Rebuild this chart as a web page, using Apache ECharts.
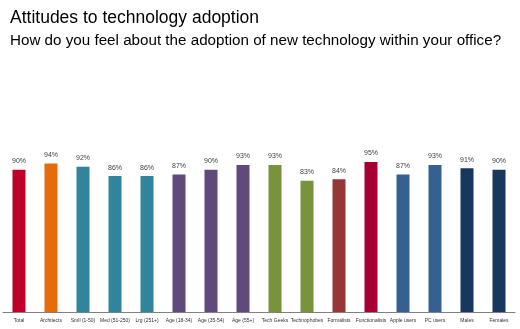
<!DOCTYPE html>
<html><head><meta charset="utf-8">
<script src="https://cdn.jsdelivr.net/npm/echarts@6/dist/echarts.min.js"></script>
<style>html,body{margin:0;padding:0;background:#fff}#c{width:520px;height:329px}</style>
</head><body><div id="c"></div>
<script>
const categories = ["Total","Architects","Smll (1-50)","Med (51-250)","Lrg (251+)","Age (18-34)","Age (35-54)","Age (55+)","Tech Geeks","Technophobes","Formalists","Functionalists","Apple users","PC users","Males","Females"];
const values = [90,94,92,86,86,87,90,93,93,83,84,95,87,93,91,90];
const colors = ["#BE0029","#E46C0A","#31849B","#31849B","#31849B","#604A7B","#604A7B","#604A7B","#77933C","#77933C","#953735","#A50034","#376092","#376092","#17375E","#17375E"];

const chart = echarts.init(document.getElementById('c'));
chart.setOption({
  animation:false,
  title:[
    {text:"Attitudes to technology adoption",left:5,top:4,textStyle:{fontFamily:"Liberation Sans",fontSize:17.5,fontWeight:"normal",color:"#000"}},
    {text:"How do you feel about the adoption of new technology within your office?",left:5,top:28,textStyle:{fontFamily:"Liberation Sans",fontSize:15.2,fontWeight:"normal",color:"#000"}}
  ],
  grid:{left:3,right:5,top:154,bottom:17,containLabel:false},
  xAxis:{type:'category',data:categories,
    axisLine:{lineStyle:{color:'#808080',width:1}},axisTick:{show:false},
    axisLabel:{interval:0,fontSize:5,color:'#333',fontFamily:'Liberation Sans',margin:6}},
  yAxis:{type:'value',min:0,max:100,show:false,splitLine:{show:false}},
  series:[{type:'bar',barWidth:13,
    data:values.map((v,i)=>({value:v,itemStyle:{color:colors[i]}})),
    label:{show:true,position:'top',distance:5,fontSize:7,color:'#404040',fontFamily:'Liberation Sans',formatter:p=>p.value+'%'}
  }]
});
</script></body></html>
